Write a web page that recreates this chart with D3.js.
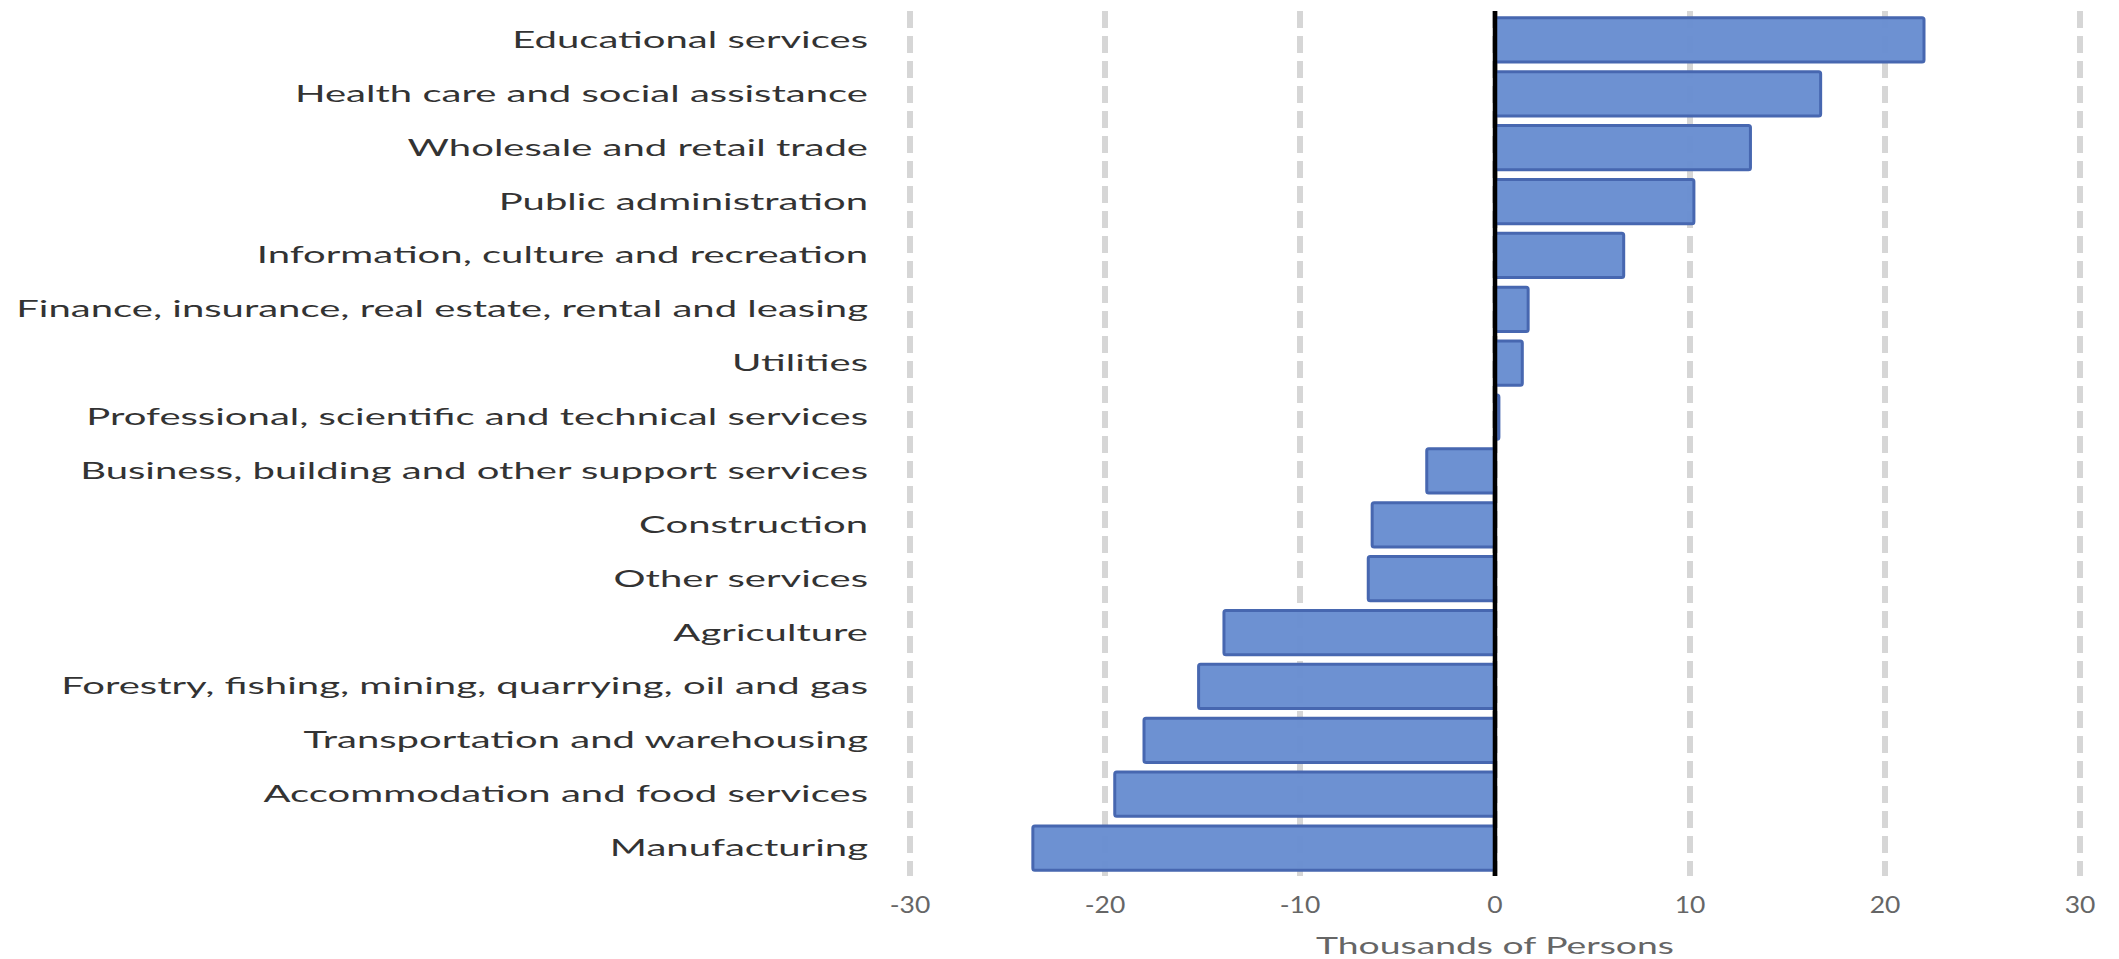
<!DOCTYPE html>
<html>
<head>
<meta charset="utf-8">
<script src="https://cdn.jsdelivr.net/npm/d3@7"></script>
<style>
  body { margin: 0; background: #ffffff; }
  svg { display: block; }
</style>
</head>
<body>
<svg id="chart" width="2119" height="959"></svg>
<script>
// Employment change by industry, thousands of persons
const categories = [
  "Educational services",
  "Health care and social assistance",
  "Wholesale and retail trade",
  "Public administration",
  "Information, culture and recreation",
  "Finance, insurance, real estate, rental and leasing",
  "Utilities",
  "Professional, scientific and technical services",
  "Business, building and other support services",
  "Construction",
  "Other services",
  "Agriculture",
  "Forestry, fishing, mining, quarrying, oil and gas",
  "Transportation and warehousing",
  "Accommodation and food services",
  "Manufacturing"
];
const values = [22.0, 16.7, 13.1, 10.2, 6.6, 1.7, 1.4, 0.2, -3.5, -6.3, -6.5, -13.9, -15.2, -18.0, -19.5, -23.7];
const tickValues = [-30, -20, -10, 0, 10, 20, 30];
const axisTitle = "Thousands of Persons";

const svg = d3.select("#chart");
const plotTop = 11, plotBottom = 876;
const labelFont = "Lato, 'Open Sans', sans-serif";

const x = d3.scaleLinear().domain([-30, 30]).range([910, 2080]);
const y = d3.scaleBand().domain(categories).range([13, 875]).paddingInner(0.18).paddingOuter(0.09);

// dashed vertical gridlines
svg.append("g").selectAll("line")
  .data(tickValues)
  .join("line")
  .attr("x1", d => x(d)).attr("x2", d => x(d))
  .attr("y1", plotTop).attr("y2", plotBottom)
  .attr("stroke", "#d6d6d6")
  .attr("stroke-width", 6)
  .attr("stroke-dasharray", "17,8");

// bars
svg.append("g").selectAll("rect")
  .data(categories.map((c, i) => ({ c, v: values[i] })))
  .join("rect")
  .attr("x", d => x(Math.min(0, d.v)))
  .attr("width", d => Math.abs(x(d.v) - x(0)))
  .attr("y", d => y(d.c))
  .attr("height", y.bandwidth())
  .attr("rx", 2)
  .attr("fill", "#678dd0")
  .attr("fill-opacity", 0.96)
  .attr("stroke", "#4767b0")
  .attr("stroke-width", 3);

// zero baseline
svg.append("line")
  .attr("x1", x(0)).attr("x2", x(0))
  .attr("y1", plotTop).attr("y2", plotBottom)
  .attr("stroke", "#000000")
  .attr("stroke-width", 4.5);

// category labels, stretched horizontally to the wide label style
const labelRight = 868, labelLeft = 16;
const labels = svg.append("g").selectAll("g")
  .data(categories)
  .join("g")
  .attr("transform", d => `translate(${labelRight},${y(d) + y.bandwidth() / 2})`);
labels.append("text")
  .attr("text-anchor", "end")
  .attr("dy", "0.35em")
  .attr("font-family", labelFont)
  .attr("font-size", 23)
  .attr("fill", "#333333")
  .text(d => d);
let maxW = 0;
labels.selectAll("text").each(function () { maxW = Math.max(maxW, this.getComputedTextLength()); });
const sx = (labelRight - labelLeft) / maxW;
labels.selectAll("text").attr("transform", `scale(${sx},1)`);

// tick labels
const ticks = svg.append("g").selectAll("g")
  .data(tickValues)
  .join("g")
  .attr("transform", d => `translate(${x(d)},905)`);
ticks.append("text")
  .attr("text-anchor", "middle")
  .attr("dy", "0.35em")
  .attr("font-family", labelFont)
  .attr("font-size", 23)
  .attr("fill", "#666666")
  .attr("transform", "scale(1.15,1)")
  .text(d => d < 0 ? "-" + Math.abs(d) : String(d));

// axis title
const title = svg.append("g").attr("transform", `translate(${x(0)},946)`);
const titleText = title.append("text")
  .attr("text-anchor", "middle")
  .attr("dy", "0.35em")
  .attr("font-family", labelFont)
  .attr("font-size", 24)
  .attr("fill", "#666666")
  .text(axisTitle);
const tw = titleText.node().getComputedTextLength();
titleText.attr("transform", `scale(${358 / tw},1)`);
</script>
</body>
</html>
